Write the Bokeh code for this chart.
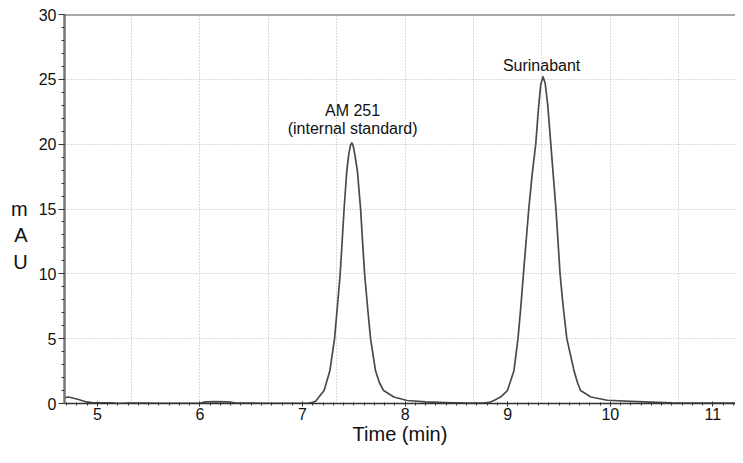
from bokeh.plotting import figure
from bokeh.models import SingleIntervalTicker, FixedTicker, Range1d, Span
from bokeh.core.properties import value
from bokeh.embed import file_html
from bokeh.resources import INLINE

# ---- data ----
time_min = [4.68, 4.72, 4.80, 4.88, 4.95, 5.05, 5.15, 5.20, 5.30, 5.45, 5.60, 5.80,
            6.00, 6.05, 6.15, 6.28, 6.35, 6.60, 6.90, 7.05, 7.10, 7.13, 7.16, 7.21,
            7.266, 7.312, 7.34, 7.367, 7.39, 7.405, 7.43, 7.45, 7.467, 7.48, 7.493,
            7.51, 7.535, 7.566, 7.585, 7.605, 7.633, 7.663, 7.712, 7.75, 7.79, 7.89,
            8.02, 8.20, 8.40, 8.60, 8.75, 8.82, 8.87, 8.93, 8.997, 9.06, 9.10, 9.128,
            9.153, 9.205, 9.24, 9.273, 9.30, 9.322, 9.344, 9.365, 9.39, 9.42, 9.445,
            9.47, 9.51, 9.54, 9.576, 9.647, 9.68, 9.71, 9.81, 9.97, 10.2, 10.4, 10.6,
            10.9, 11.3]
mau = [0.45, 0.50, 0.35, 0.15, 0.07, 0.05, 0.05, 0.00, 0.04, 0.03, 0.02, 0.02,
       0.02, 0.12, 0.15, 0.12, 0.03, 0.02, 0.02, 0.02, 0.08, 0.20, 0.50, 1.00,
       2.50, 5.00, 7.50, 10.0, 13.0, 15.0, 17.8, 19.2, 19.9, 20.1, 19.9,
       19.2, 17.9, 15.0, 12.5, 10.0, 7.5, 5.0, 2.5, 1.6, 1.0, 0.5,
       0.23, 0.12, 0.07, 0.04, 0.03, 0.08, 0.25, 0.50, 1.00, 2.50, 5.00, 7.5,
       10.0, 15.0, 17.8, 20.0, 22.8, 24.6, 25.2, 24.7, 23.0, 20.0, 17.5,
       15.0, 10.0, 7.5, 5.0, 2.5, 1.6, 1.0, 0.5, 0.25, 0.17, 0.10, 0.05,
       0.03, 0.03]

peak_label_x = [7.488, 7.488, 9.33]
peak_label_y = [22.6, 21.2, 26.1]
peak_label_text = ["AM 251", "(internal standard)", "Surinabant"]

grid_times = [5.333, 6.0, 6.667, 7.333, 8.0, 8.667, 9.333, 10.0, 10.667]
y_grid_values = [5, 10, 15, 20, 25]

FONT = "Liberation Sans"

p = figure(width=735, height=447, output_backend="svg", toolbar_location=None,
           x_range=Range1d(4.68, 11.22), y_range=Range1d(0, 30),
           min_border_left=64, min_border_right=0, min_border_top=14, min_border_bottom=0)
p.outline_line_color = None
p.background_fill_color = "white"
p.border_fill_color = "white"

# grid
p.xgrid.ticker = FixedTicker(ticks=grid_times)
p.ygrid.ticker = FixedTicker(ticks=y_grid_values)
for g in (p.xgrid, p.ygrid):
    g.grid_line_color = "#b8b8b8"
    g.grid_line_dash = "1 2"
    g.grid_line_width = 1

# x axis
xa = p.xaxis[0]
xa.ticker = SingleIntervalTicker(interval=1, num_minor_ticks=10)
xa.axis_label = "Time (min)"
xa.axis_label_text_font = FONT
xa.axis_label_text_font_size = "20px"
xa.axis_label_text_font_style = "normal"
xa.axis_label_text_color = "#111111"
xa.axis_label_standoff = 0
xa.major_label_text_font = FONT
xa.major_label_text_font_size = "16px"
xa.major_label_text_color = "#111111"
xa.major_label_standoff = 1
xa.axis_line_color = "#333333"
xa.axis_line_width = 1.5
xa.major_tick_in = 2
xa.major_tick_out = 3
xa.minor_tick_in = 1
xa.minor_tick_out = 2
xa.major_tick_line_color = "#333333"
xa.minor_tick_line_color = "#333333"

# y axis
ya = p.yaxis[0]
ya.ticker = SingleIntervalTicker(interval=5, num_minor_ticks=5)
ya.axis_label = "\n\nm\nA\nU"
ya.axis_label_orientation = "horizontal"
ya.axis_label_text_font = FONT
ya.axis_label_text_font_size = "20px"
ya.axis_label_text_font_style = "normal"
ya.axis_label_text_color = "#111111"
ya.axis_label_text_line_height = 1.2
ya.axis_label_standoff = 8
ya.major_label_text_font = FONT
ya.major_label_text_font_size = "16px"
ya.major_label_text_color = "#111111"
ya.major_label_standoff = 2
ya.axis_line_color = "#777777"
ya.axis_line_width = 2.5
ya.major_tick_in = 0
ya.major_tick_out = 6
ya.minor_tick_in = 0
ya.minor_tick_out = 3
ya.major_tick_line_color = "#333333"
ya.minor_tick_line_color = "#333333"

# top border
p.add_layout(Span(location=30, dimension="width", line_color="#555555", line_width=2))

# trace
p.line(time_min, mau, line_color="#4a4a4a", line_width=1.7, line_join="round")

# peak labels
p.text(x=peak_label_x, y=peak_label_y, text=peak_label_text,
       text_font=value(FONT), text_font_size="16px", text_color="#111111",
       text_align="center", text_baseline="alphabetic")

open("out.html", "w").write(file_html(p, INLINE))
